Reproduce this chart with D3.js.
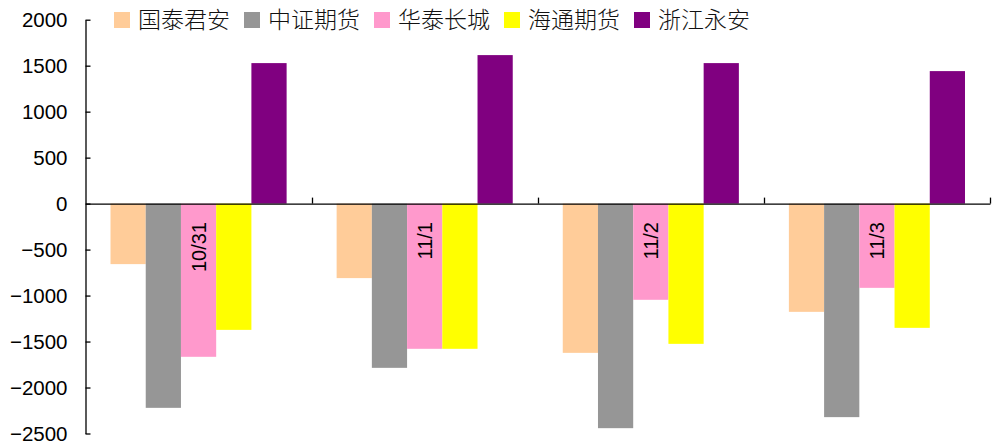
<!DOCTYPE html>
<html><head><meta charset="utf-8">
<script src="https://cdn.jsdelivr.net/npm/d3@7"></script>
<style>body{margin:0;background:#fff;} svg{display:block;}</style>
</head><body>
<svg id="c" width="1001" height="447"></svg>
<script>
const categories = ["10/31", "11/1", "11/2", "11/3"];
const seriesNames = ["国泰君安", "中证期货", "华泰长城", "海通期货", "浙江永安"];
const guotai = [-658, -810, -1623, -1177];
const zhongzheng = [-2221, -1786, -2442, -2322];
const huatai = [-1666, -1579, -1046, -916];
const haitong = [-1373, -1579, -1525, -1351];
const zhejiang = [1528, 1615, 1528, 1441];
const yTicks = [2000, 1500, 1000, 500, 0, -500, -1000, -1500, -2000, -2500];
const colors = ["#FFCC99", "#969696", "#FF99CC", "#FFFF00", "#800080"];

const seriesValues = [guotai, zhongzheng, huatai, haitong, zhejiang];
const svg = d3.select("#c");
const mLeft = 85.5, mRight = 990, mTop = 19.7, mBottom = 433.5;

const y = d3.scaleLinear().domain([-2500, 2000]).range([mBottom, mTop]);
const x0 = d3.scaleBand().domain(categories).range([mLeft, mRight]).paddingInner(0).paddingOuter(0);
const x1 = d3.scaleBand().domain(seriesNames).range([0, x0.bandwidth()]).paddingOuter(0.71).paddingInner(0);

// bars
categories.forEach((c, ci) => {
  seriesNames.forEach((s, si) => {
    const v = seriesValues[si][ci];
    svg.append("rect")
      .attr("x", x0(c) + x1(s))
      .attr("width", x1.bandwidth())
      .attr("y", y(Math.max(0, v)))
      .attr("height", Math.abs(y(v) - y(0)))
      .attr("fill", colors[si]);
  });
});

// y axis
const yAxis = d3.axisLeft(y).tickValues(yTicks).tickFormat(d3.format("d"))
  .tickSizeInner(-5).tickSizeOuter(0).tickPadding(18);
const gy = svg.append("g").attr("transform", `translate(${mLeft},0)`).call(yAxis);
gy.select(".domain").attr("stroke", "#000").attr("stroke-width", 1.3);
gy.selectAll(".tick line").attr("stroke", "#000").attr("stroke-width", 1.3);
gy.selectAll(".tick text").attr("font-family", "Liberation Sans, Arial, sans-serif").attr("font-size", 20.5).attr("fill", "#000");

// x axis at zero
const xAxis = d3.axisBottom(x0).tickSize(0).tickFormat("");
const gx = svg.append("g").attr("transform", `translate(0,${y(0)})`).call(xAxis);
gx.select(".domain").attr("stroke", "#000").attr("stroke-width", 1.3);
// category separator ticks (up)
const seps = categories.map(c => x0(c) + x0.bandwidth());
svg.selectAll("line.sep").data(seps).enter().append("line")
  .attr("x1", d => Math.round(d) + 0.5).attr("x2", d => Math.round(d) + 0.5)
  .attr("y1", y(0)).attr("y2", y(0) - 6)
  .attr("stroke", "#000").attr("stroke-width", 1.3);

// category labels rotated
svg.selectAll("text.cat").data(categories).enter().append("text")
  .attr("transform", d => `translate(${x0(d) + x0.bandwidth() / 2},222) rotate(-90)`)
  .attr("text-anchor", "end")
  .attr("dy", "0.36em")
  .attr("font-family", "Liberation Sans, Arial, sans-serif")
  .attr("font-size", 20)
  .attr("fill", "#000")
  .text(d => d);

// legend
const leg = svg.append("g");
seriesNames.forEach((s, i) => {
  const lx = 114 + i * 130;
  leg.append("rect").attr("x", lx).attr("y", 12).attr("width", 16).attr("height", 16).attr("fill", colors[i]);
  leg.append("text").attr("x", lx + 24).attr("y", 20).attr("dy", "0.36em")
    .attr("font-family", "Noto Sans CJK SC, sans-serif").attr("font-size", 23).attr("font-weight", 300).attr("fill", "#111")
    .text(s);
});
</script>
</body></html>
